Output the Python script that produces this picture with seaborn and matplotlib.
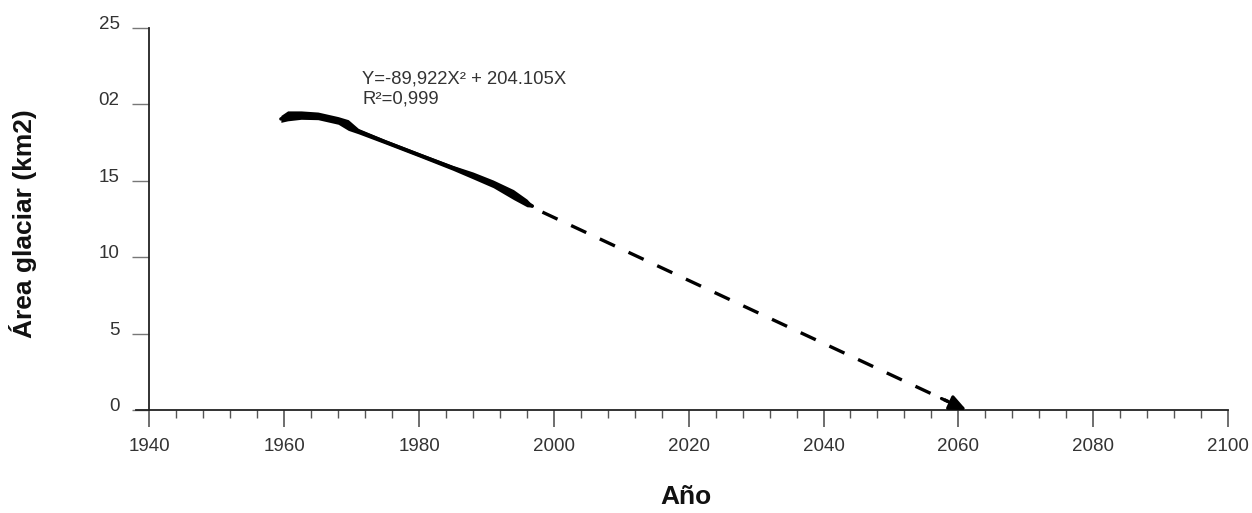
import numpy as np
import pandas as pd
import seaborn as sns
import matplotlib.pyplot as plt
from matplotlib.ticker import MultipleLocator, FixedLocator
from matplotlib.transforms import ScaledTranslation

sns.set_style('white')
plt.rcParams['font.family'] = ['Liberation Sans', 'DejaVu Sans']

anios = [1959.5, 1960.5, 1962.5, 1965, 1968, 1969.5, 1971, 1975, 1980, 1985, 1988, 1991, 1994, 1996, 1996.8]
area = [19.05, 19.25, 19.3, 19.25, 18.95, 18.65, 18.25, 17.55, 16.7, 15.85, 15.35, 14.8, 14.1, 13.55, 13.35]
grosor = [0.45, 0.65, 0.55, 0.5, 0.5, 0.7, 0.35, 0.28, 0.28, 0.32, 0.45, 0.5, 0.65, 0.5, 0.15]

# proyección (línea discontinua)
anios_proy = [1998.3, 2058.5]
area_proy = [12.95, 0.55]
flecha_ini = (2057.5, 0.75)
flecha_fin = (2061.2, 0.0)

y_ticks = [0, 5, 10, 15, 20, 25]
y_labels = ['0', '5', '10', '15', '02', '25']
x_ticks = [1940, 1960, 1980, 2000, 2020, 2040, 2060, 2080, 2100]

ecuacion = 'Y=-89,922X² + 204.105X'
r2 = 'R²=0,999'

df = pd.DataFrame({'anio': anios, 'area': area, 'grosor': grosor})
df_proy = pd.DataFrame({'anio': anios_proy, 'area': area_proy})

fig = plt.figure(figsize=(12.52, 5.13), dpi=100)
ax = fig.add_axes([0.1086, 0.2008, 0.8722, 0.7446])

# trazo observado
ax.fill_between(df['anio'], df['area'] - df['grosor'] / 2, df['area'] + df['grosor'] / 2,
                color='black', linewidth=0)
sns.lineplot(data=df, x='anio', y='area', color='black', linewidth=2.5, ax=ax,
             solid_capstyle='round')

# proyección
sns.lineplot(data=df_proy, x='anio', y='area', color='black', linewidth=2.4,
             dashes=False, ax=ax)
ax.lines[-1].set_dashes((5, 4.5))
ax.annotate('', xy=flecha_fin, xytext=flecha_ini,
            arrowprops=dict(arrowstyle='-|>,head_length=1.0,head_width=0.45',
                            color='black', lw=2.3, shrinkA=0, shrinkB=0))

ax.text(1971.6, 21.34, ecuacion, fontsize=13.3, color='#333333', va='baseline')
ax.text(1971.6, 20.03, r2, fontsize=13.3, color='#333333', va='baseline')

ax.set_xlim(1938, 2100)
ax.set_ylim(0, 25)
ax.spines['top'].set_visible(False)
ax.spines['right'].set_visible(False)
ax.spines['left'].set_position(('data', 1940))
for s in ['left', 'bottom']:
    ax.spines[s].set_color('#222222')
    ax.spines[s].set_linewidth(1.3)

ax.xaxis.set_major_locator(FixedLocator(x_ticks))
ax.xaxis.set_minor_locator(MultipleLocator(4))
ax.set_yticks(y_ticks)
ax.set_yticklabels(y_labels)
ax.tick_params(axis='x', which='major', direction='out', length=12, width=1.2,
               color='#555555', labelsize=13.5, labelcolor='#333333', pad=8, bottom=True)
ax.tick_params(axis='x', which='minor', direction='out', length=5.5, width=1.0,
               color='#555555', bottom=True)
ax.tick_params(axis='y', direction='out', length=12, width=1.0, color='#777777',
               labelsize=13.5, labelcolor='#333333', pad=9.5, left=True)
off = ScaledTranslation(0, 4 / 72, fig.dpi_scale_trans)
for lbl in ax.get_yticklabels():
    lbl.set_transform(lbl.get_transform() + off)

ax.set_xlabel('Año', fontsize=19, fontweight='bold', color='#111111', va='baseline')
ax.set_ylabel('Área glaciar (km2)', fontsize=19, fontweight='bold', color='#111111')
ax.xaxis.set_label_coords(0.504, -0.247)
ax.yaxis.set_label_coords(-0.091, 0.488)
ax.grid(False)

fig.savefig('out.png', dpi=100)
